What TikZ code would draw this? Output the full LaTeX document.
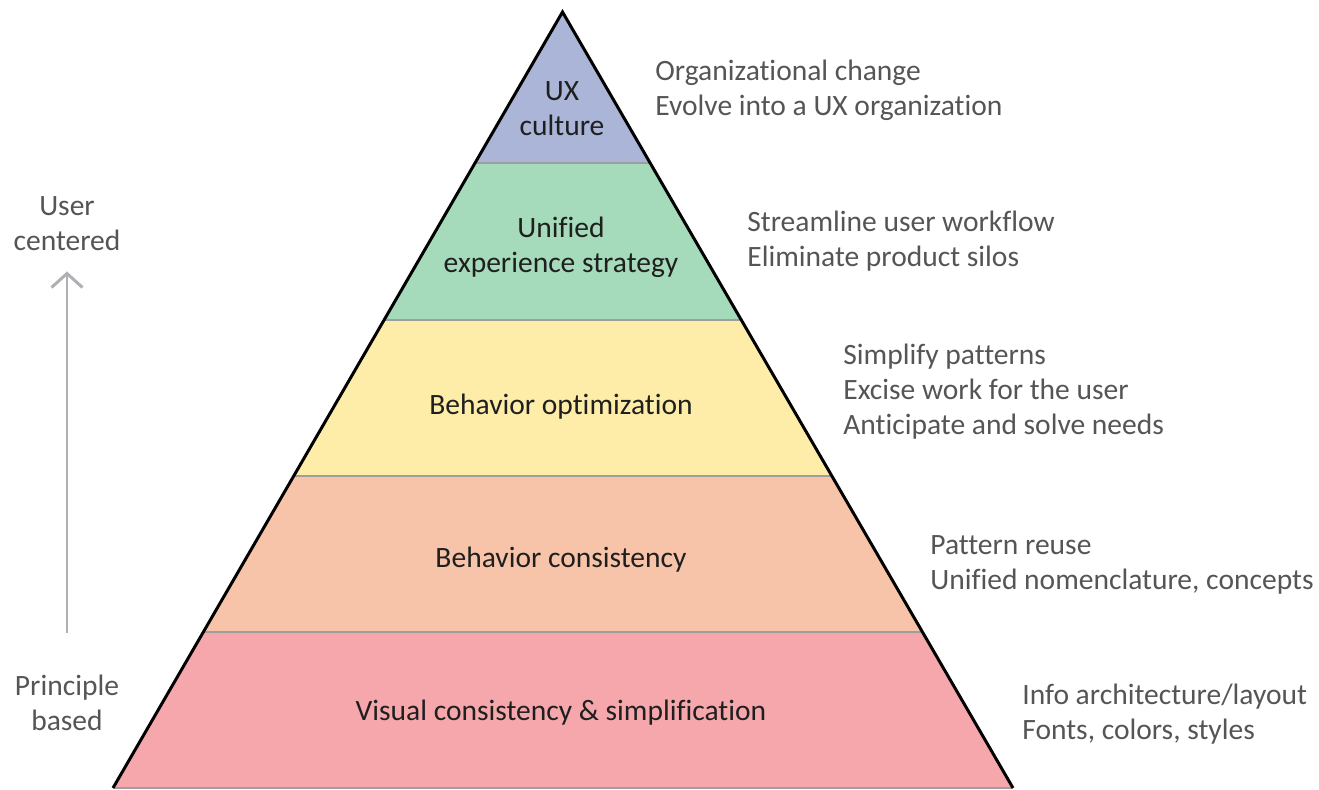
\documentclass[tikz,border=0pt]{standalone}
\usepackage{fontspec}
\setmainfont{Carlito}[Ligatures=NoCommon]
\usepackage{tikz}
\usetikzlibrary{calc,arrows.meta}

\definecolor{uxblue}{HTML}{AAB5D7}
\definecolor{stratgreen}{HTML}{A5DABB}
\definecolor{optyellow}{HTML}{FDEDA8}
\definecolor{conspeach}{HTML}{F7C4AA}
\definecolor{visualpink}{HTML}{F5A7AC}
\definecolor{notegray}{HTML}{555555}
\definecolor{trendgray}{HTML}{AFAFB4}

\begin{document}
\begin{tikzpicture}[
    every node/.style={font=\fontsize{16.8}{20}\selectfont, inner sep=0pt},
    level/.style={align=center, text=black!88},
    note/.style={align=left, anchor=west, text=notegray},
    side/.style={align=center, text=notegray},
    sep/.style={draw=black!38, line width=1pt},
    edge/.style={draw=black, line width=1.7pt},
    trend/.style={draw=trendgray, line width=1.7pt,
      -{Straight Barb[length=0.28cm, width=0.62cm, line width=1.7pt]}}
  ]
  \useasboundingbox (0,0) rectangle (26.38,15.8);

  \coordinate (apex) at (11.25,15.56);
  \coordinate (bl) at (2.26,0.04);
  \coordinate (br) at (20.26,0.04);

  % bands, top to bottom
  \foreach \top/\bot/\col in {0/0.1946/uxblue, 0.1946/0.3969/stratgreen,
      0.3969/0.598/optyellow, 0.598/0.799/conspeach, 0.799/1/visualpink}
    \fill[\col] ($(apex)!\top!(bl)$) -- ($(apex)!\bot!(bl)$)
      -- ($(apex)!\bot!(br)$) -- ($(apex)!\top!(br)$) -- cycle;
  \foreach \f in {0.1946,0.3969,0.598,0.799,1}
    \draw[sep] ($(apex)!\f!(bl)$) -- ($(apex)!\f!(br)$);
  \draw[edge] (bl) -- (apex) -- (br);

  \node[level] (culture) at (11.24,13.63) {UX\\culture};
  \node[level] (strategy) at (11.22,10.85) {Unified\\experience strategy};
  \node[level] (optim) at (11.22,7.67) {Behavior optimization};
  \node[level] (consist) at (11.22,4.61) {Behavior consistency};
  \node[level] (visual) at (11.22,1.55) {Visual consistency \& simplification};

  \node[note] (culturenote) at (13.10,14.00) {Organizational change\\Evolve into a UX organization};
  \node[note] (strategynote) at (14.94,10.98) {Streamline user workflow\\Eliminate product silos};
  \node[note] (optimnote) at (16.86,7.97) {Simplify patterns\\Excise work for the user\\Anticipate and solve needs};
  \node[note] (consistnote) at (18.60,4.51) {Pattern reuse\\Unified nomenclature, concepts};
  \node[note] (visualnote) at (20.44,1.52) {Info architecture/layout\\Fonts, colors, styles};

  \node[side] (usercentered) at (1.34,11.33) {User\\centered};
  \node[side] (principle) at (1.34,1.75) {Principle\\based};
  \draw[trend, shorten <=0.83cm, shorten >=0.41cm] (principle) -- (usercentered);
\end{tikzpicture}
\end{document}
